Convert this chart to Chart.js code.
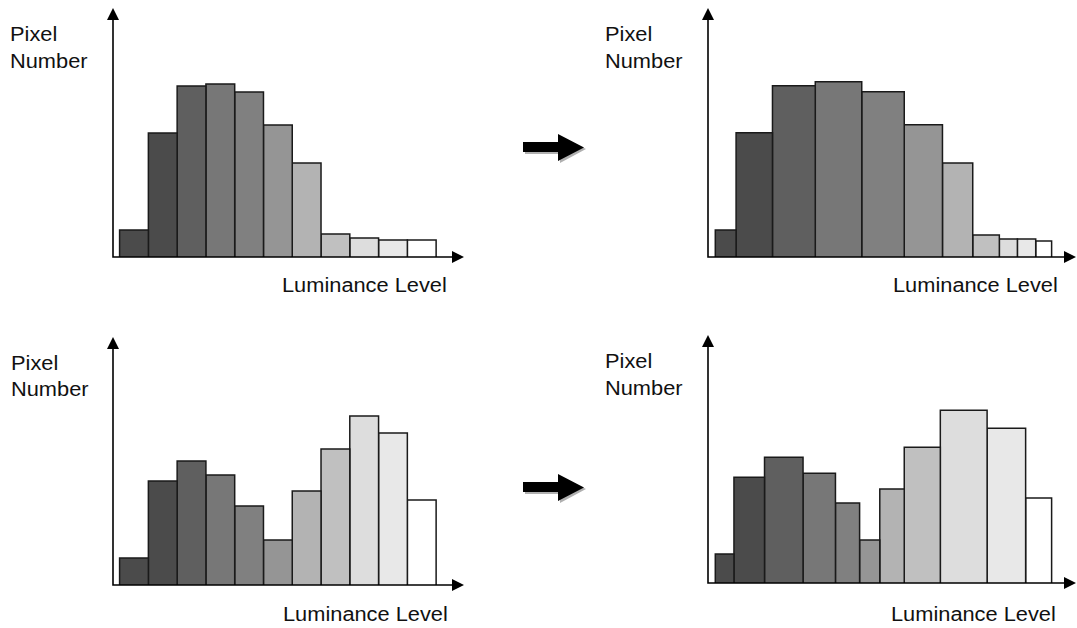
<!DOCTYPE html>
<html>
<head>
<meta charset="utf-8">
<script src="https://cdn.jsdelivr.net/npm/chart.js@4.4.1/dist/chart.umd.min.js"></script>
<style>
  html, body { margin: 0; padding: 0; background: #fff; }
  body { width: 1077px; height: 628px; position: relative; overflow: hidden; }
  canvas { position: absolute; }
  .lbl {
    position: absolute;
    font-family: "Liberation Sans", Arial, sans-serif;
    font-size: 20px;
    line-height: 26.6px;
    color: #111;
    white-space: nowrap;
    transform: scaleX(1.09);
    transform-origin: left top;
  }
  svg { position: absolute; left: 0; top: 0; }
</style>
</head>
<body>

<script>
// luminance levels (bins) and their grey
const levels = [0, 1, 2, 3, 4, 5, 6, 7, 8, 9, 10];
const grays = ["#4b4b4b", "#4b4b4b", "#5f5f5f", "#777777", "#808080", "#959595",
               "#b3b3b3", "#c0c0c0", "#dddddd", "#e8e8e8", "#ffffff"];

// bin edges on the luminance axis
const evenEdges = [0, 1, 2, 3, 4, 5, 6, 7, 8, 9, 10, 11];
const edgesTopEq = [0, 0.68, 1.87, 3.27, 4.79, 6.18, 7.43, 8.42, 9.29, 9.88, 10.48, 11];
const edgesBottomEq = [0, 0.61, 1.61, 2.87, 3.93, 4.72, 5.38, 6.18, 7.36, 8.89, 10.15, 11];

// pixel numbers per bin
const countsTop = [27, 124, 171, 173, 165, 132, 94, 23, 19, 17, 17];
const countsTopEq = [27, 124, 171, 175, 165, 132, 94, 22, 18, 18, 16];
const countsBottom = [27, 104, 124, 110, 79, 45, 94, 136, 169, 152, 85];
const countsBottomEq = [29, 106, 126, 110, 80, 43, 94, 136, 173, 155, 85];

const yLabel = ["Pixel", "Number"];
const xLabel = "Luminance Level";

// where each panel's axes sit on the page
const panels = [
  { edges: evenEdges, counts: countsTop, ax: 112.7, tip: 8, right: 464, base: 257, x0: 119.3, unit: 28.8,
    yl: [10, 21.4], xl: [281.7, 272.4] },
  { edges: edgesTopEq, counts: countsTopEq, ax: 707.7, tip: 8, right: 1076, base: 256.7, x0: 715, unit: 30.6,
    yl: [605, 21.4], xl: [893.3, 272.4] },
  { edges: evenEdges, counts: countsBottom, ax: 112.7, tip: 337.3, right: 464, base: 585.3, x0: 119.3, unit: 28.8,
    yl: [11, 349.7], xl: [283.3, 601.4] },
  { edges: edgesBottomEq, counts: countsBottomEq, ax: 707.7, tip: 335, right: 1076, base: 583.3, x0: 715, unit: 30.6,
    yl: [605, 348], xl: [890.7, 601.4] },
];

const axesArrows = {
  id: "axesArrows",
  afterDatasetsDraw(chart) {
    const { ctx, chartArea: a } = chart;
    ctx.save();
    ctx.strokeStyle = "#000";
    ctx.fillStyle = "#000";
    ctx.lineWidth = 1.6;
    ctx.beginPath();
    ctx.moveTo(a.left, a.top + 8);
    ctx.lineTo(a.left, a.bottom);
    ctx.lineTo(a.right - 8, a.bottom);
    ctx.stroke();
    ctx.beginPath();
    ctx.moveTo(a.left, a.top);
    ctx.lineTo(a.left - 6, a.top + 12);
    ctx.lineTo(a.left + 6, a.top + 12);
    ctx.closePath();
    ctx.fill();
    ctx.beginPath();
    ctx.moveTo(a.right, a.bottom);
    ctx.lineTo(a.right - 12, a.bottom - 6);
    ctx.lineTo(a.right - 12, a.bottom + 6);
    ctx.closePath();
    ctx.fill();
    ctx.restore();
  }
};

panels.forEach((p) => {
  const box = { l: p.ax - 10, t: p.tip - 2, r: p.right + 4, b: p.base + 10 };
  const cv = document.createElement("canvas");
  cv.width = Math.round(box.r - box.l);
  cv.height = Math.round(box.b - box.t);
  cv.style.left = box.l + "px";
  cv.style.top = box.t + "px";
  document.body.appendChild(cv);

  const datasets = levels.map((lv, i) => ({
    label: "Level " + lv,
    data: [
      { x: p.edges[i], y: 0 },
      { x: p.edges[i], y: p.counts[i] },
      { x: p.edges[i + 1], y: p.counts[i] },
      { x: p.edges[i + 1], y: 0 },
    ],
    showLine: true,
    fill: "origin",
    backgroundColor: grays[i],
    borderColor: "#1a1a1a",
    borderWidth: 1.5,
    borderJoinStyle: "miter",
    pointRadius: 0,
    tension: 0,
  }));

  new Chart(cv, {
    type: "scatter",
    data: { datasets },
    options: {
      responsive: false,
      animation: false,
      events: [],
      layout: {
        padding: {
          left: p.ax - box.l,
          top: p.tip - box.t,
          right: box.r - p.right,
          bottom: box.b - p.base,
        },
      },
      scales: {
        x: {
          type: "linear",
          display: false,
          min: (p.ax - p.x0) / p.unit,
          max: (p.right - p.x0) / p.unit,
        },
        y: { display: false, min: 0, max: p.base - p.tip },
      },
      plugins: { legend: { display: false }, tooltip: { enabled: false } },
    },
    plugins: [axesArrows],
  });

  const yl = document.createElement("div");
  yl.className = "lbl";
  yl.style.left = p.yl[0] + "px";
  yl.style.top = p.yl[1] + "px";
  yl.innerHTML = yLabel.join("<br>");
  document.body.appendChild(yl);

  const xl = document.createElement("div");
  xl.className = "lbl";
  xl.style.left = p.xl[0] + "px";
  xl.style.top = p.xl[1] + "px";
  xl.textContent = xLabel;
  document.body.appendChild(xl);
});
</script>

<svg width="1077" height="628">
  <g>
    <polygon points="525,144 560,144 560,136 586,149 560,163 560,154 525,154" fill="#b0b0b0"/>
    <polygon points="523,142 558,142 558,134 584,147.5 558,161 558,152 523,152" fill="#000"/>
  </g>
  <g>
    <polygon points="525,484 560,484 560,476 586,489 560,503 560,494 525,494" fill="#b0b0b0"/>
    <polygon points="523,482 558,482 558,474 584,487.5 558,501 558,492 523,492" fill="#000"/>
  </g>
</svg>
</body>
</html>
